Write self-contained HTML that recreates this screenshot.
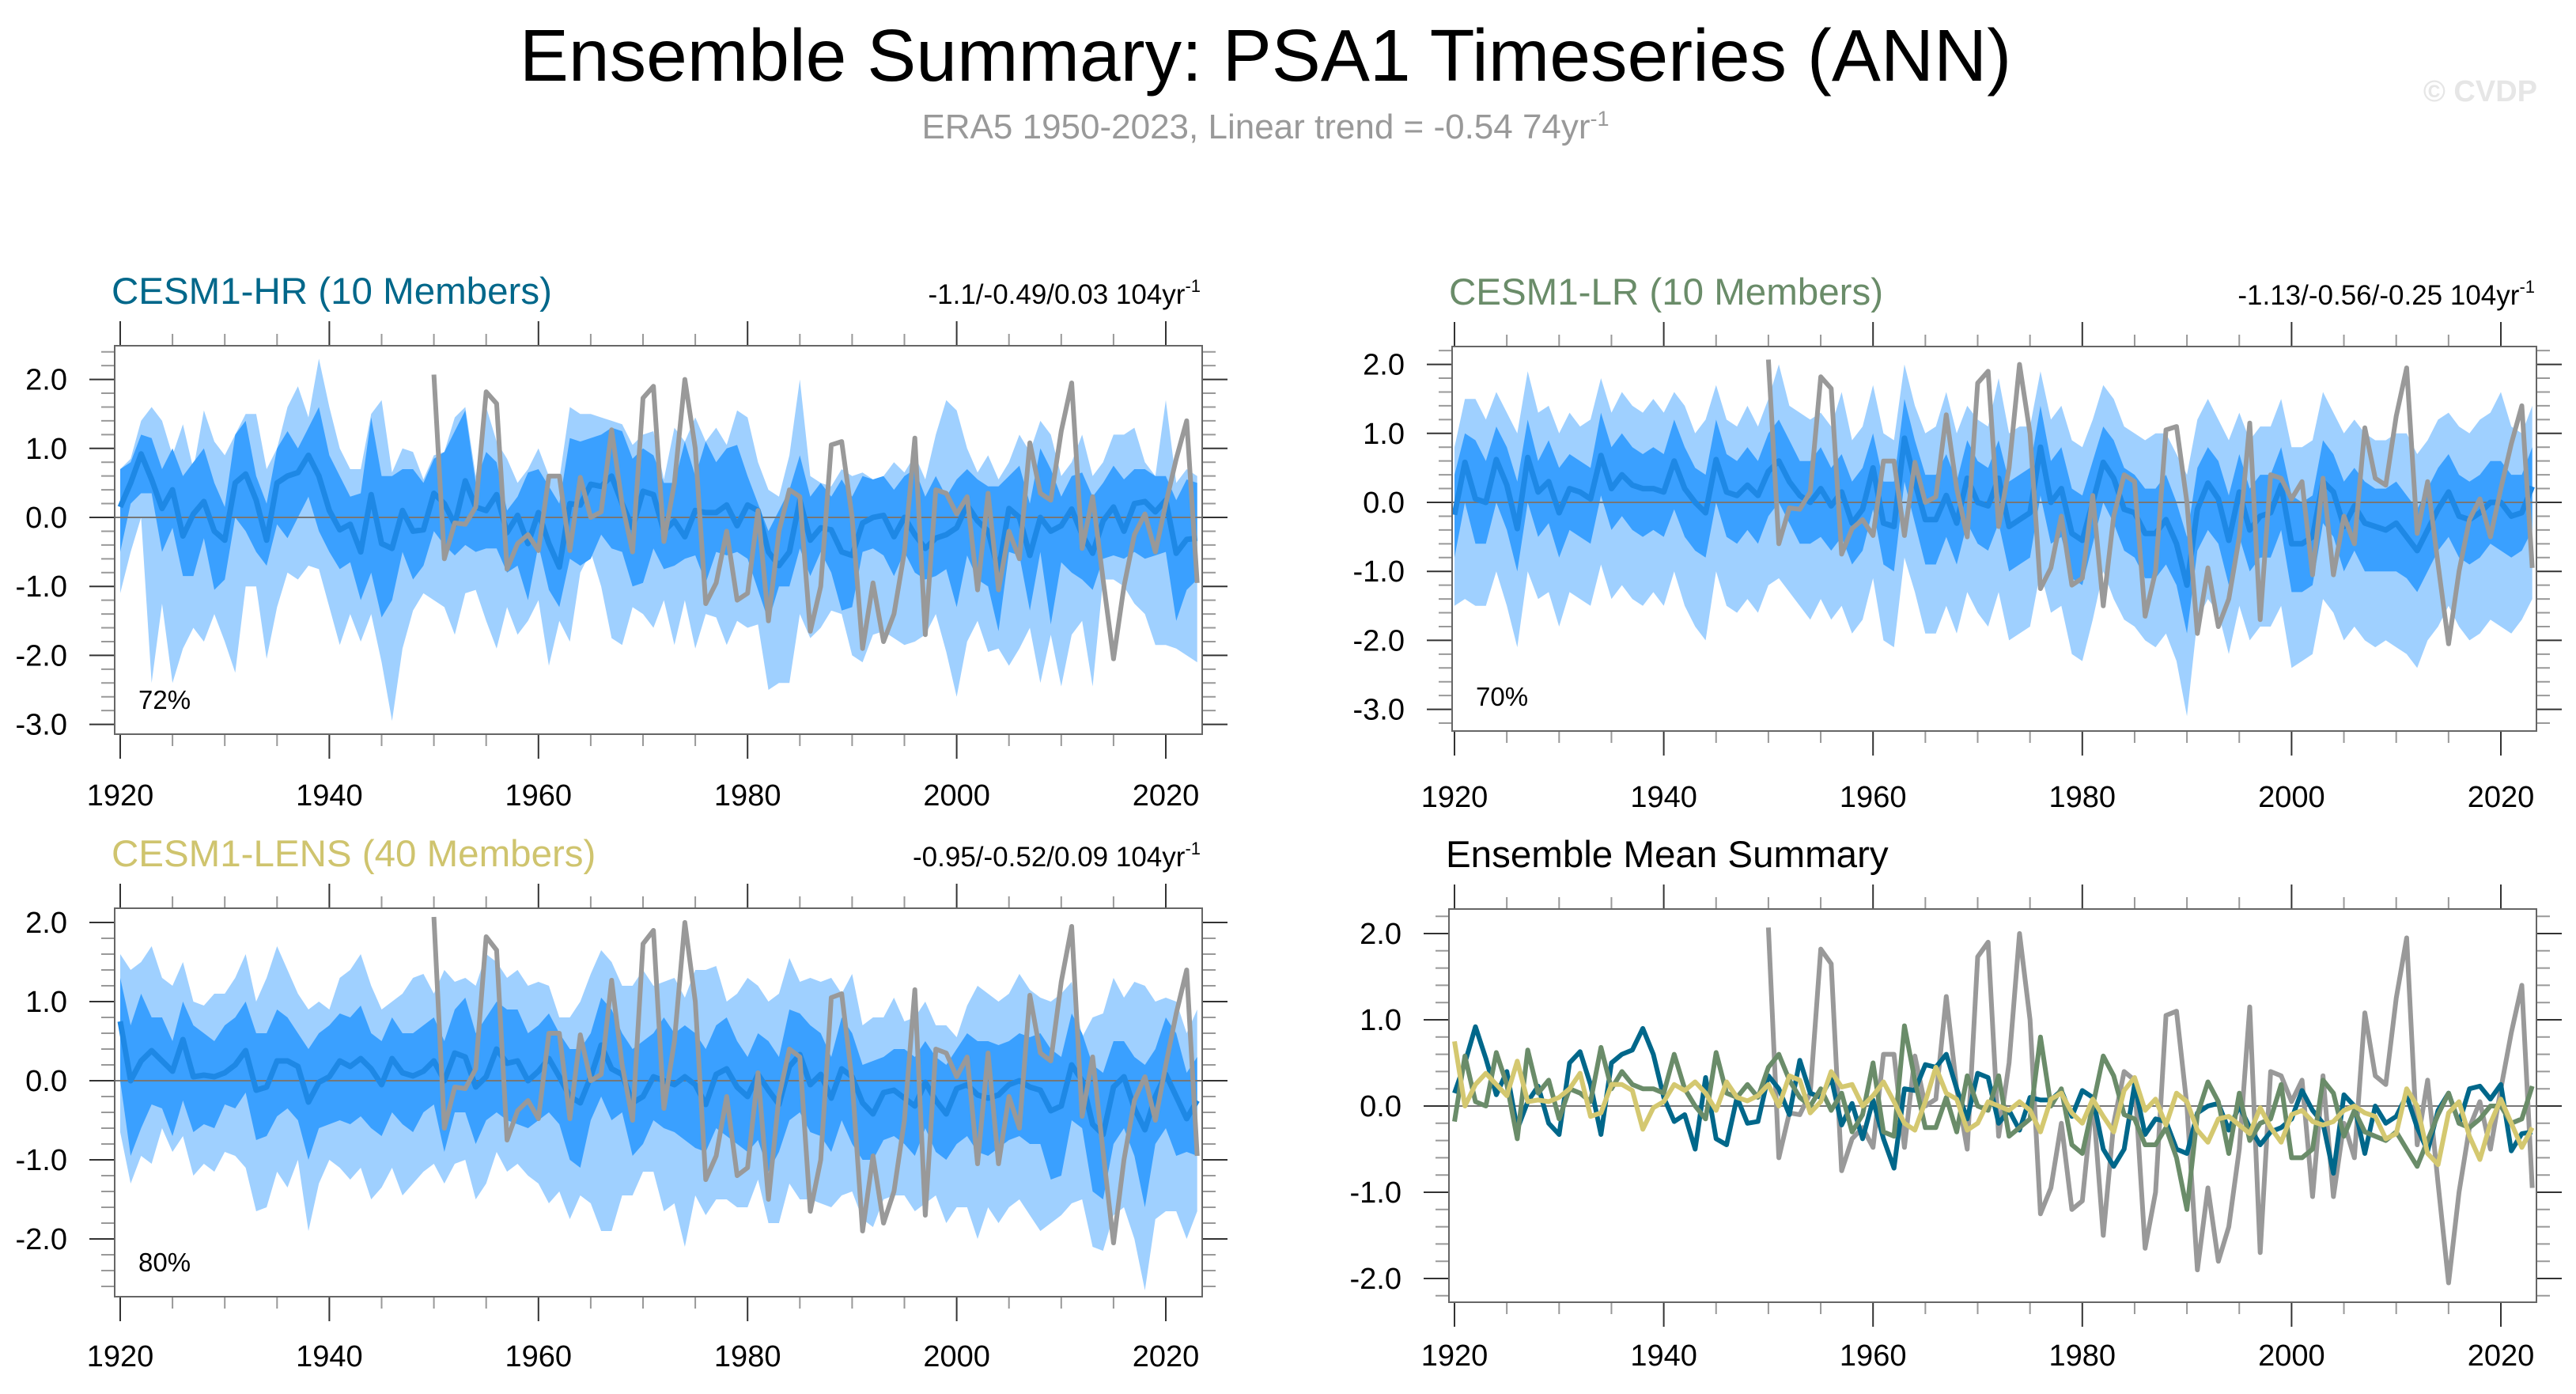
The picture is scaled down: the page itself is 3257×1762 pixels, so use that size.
<!DOCTYPE html>
<html><head><meta charset="utf-8"><style>
html,body{margin:0;padding:0;background:#fff;}
svg{display:block;font-family:"Liberation Sans",Arial,sans-serif;}
</style></head><body>
<svg id="chart" width="3257" height="1762" viewBox="0 0 3257 1762" xmlns="http://www.w3.org/2000/svg">
<text x="1600" y="102" font-size="93" text-anchor="middle" fill="#000">Ensemble Summary: PSA1 Timeseries (ANN)</text>
<text x="1600" y="175" font-size="44" text-anchor="middle" fill="#999">ERA5 1950-2023, Linear trend = -0.54 74yr<tspan dy="-16" font-size="27">-1</tspan></text>
<text x="3208" y="128" font-size="38" font-weight="bold" text-anchor="end" fill="#e6e6e6">© CVDP</text>
</svg>
<script>
const years = []; for (let y = 1920; y <= 2023; y++) years.push(y);
const eraYears = []; for (let y = 1950; y <= 2023; y++) eraYears.push(y);

const era5 = [2.07,-0.6,-0.08,-0.1,0.15,1.82,1.65,-0.75,-0.38,-0.25,
-0.48,0.6,0.6,-0.48,0.58,0.0,0.08,1.27,0.2,-0.5,
1.73,1.9,-0.35,0.5,2.0,1.0,-1.25,-0.95,-0.2,-1.2,
-1.1,0.1,-1.5,-0.2,0.4,0.3,-1.65,-1.0,1.05,1.1,
0.0,-1.9,-0.95,-1.8,-1.4,-0.5,1.15,-1.7,0.4,0.35,
0.05,0.3,-1.05,0.35,-1.05,-0.2,-0.6,1.08,0.35,0.25,
1.25,1.95,-0.45,0.3,-0.9,-2.05,-1.0,-0.25,0.05,-0.5,
0.2,0.85,1.4,-0.95];

const hrMean = [0.15,0.5,0.92,0.55,0.13,0.4,-0.27,0.05,0.23,-0.2,
-0.33,0.5,0.63,0.25,-0.33,0.5,0.6,0.65,0.9,0.6,
0.1,-0.18,-0.1,-0.5,0.33,-0.38,-0.45,0.1,-0.2,-0.18,
0.35,0.2,-0.1,0.53,0.15,0.1,0.33,-0.22,0.03,-0.38,
0.07,-0.38,-0.72,0.2,0.18,0.48,0.45,0.6,0.2,-0.15,
0.38,0.33,-0.2,-0.05,-0.28,0.1,0.07,0.07,0.18,-0.12,
0.18,0.1,-0.5,-0.7,-0.5,0.25,-0.33,-0.15,-0.18,-0.5,
-0.55,-0.08,0.0,0.03,-0.28,0.0,-0.25,-0.45,-0.3,-0.25,
-0.15,0.18,-0.05,-0.2,-0.78,0.13,0.0,-0.55,0.0,-0.2,
-0.12,0.12,-0.25,-0.52,-0.05,0.15,-0.2,0.2,0.23,0.08,
0.25,-0.52,-0.32,-0.3];
const hrInnerHi = [0.7,0.8,1.2,1.15,0.7,1.0,0.6,0.8,1.0,0.5,
0.15,1.2,1.4,0.6,0.2,1.0,1.25,1.0,1.3,1.6,
0.9,0.6,0.3,0.35,1.45,0.6,0.6,0.7,0.7,0.5,
0.85,0.95,1.25,1.55,0.5,0.95,0.8,0.1,0.3,0.65,
0.7,0.45,0.2,1.15,1.1,1.15,1.2,1.3,1.25,0.85,
1.0,0.9,0.5,0.5,1.1,0.6,1.1,0.8,1.0,1.05,
0.6,0.2,-0.2,0.1,0.4,0.9,0.3,0.5,0.3,0.55,
0.3,0.6,0.55,0.6,0.4,0.6,0.7,0.3,0.6,0.3,
0.55,0.7,0.55,0.45,0.45,0.6,0.75,0.2,1.0,0.7,
0.3,0.6,0.65,0.3,0.5,0.75,0.55,0.7,0.7,0.6,
0.6,0.25,0.55,0.5];
const hrInnerLo = [-0.5,0.2,0.35,0.35,-0.5,-0.15,-0.85,-0.85,-0.3,-1.05,
-0.9,0.0,-0.2,-0.5,-0.7,-0.1,-0.3,0.0,0.3,-0.2,
-0.5,-0.75,-0.65,-1.2,-0.8,-1.45,-1.2,-0.5,-0.9,-0.7,
-0.2,-0.4,-0.55,-0.4,-0.5,-0.45,-0.45,-0.8,-0.7,-1.2,
-0.4,-1.05,-1.3,-0.6,-0.7,-0.6,-0.25,-0.45,-0.5,-1.0,
-0.95,-0.45,-0.75,-0.7,-0.6,-0.55,-0.95,-0.5,-0.55,-0.5,
-0.6,-1.05,-1.5,-1.0,-1.0,-0.45,-0.85,-0.5,-0.8,-1.35,
-1.3,-0.5,-0.45,-0.55,-0.85,-0.5,-0.8,-0.9,-0.85,-0.75,
-1.3,-0.55,-0.9,-1.0,-1.65,-0.5,-0.55,-1.35,-0.5,-1.55,
-0.65,-0.8,-0.9,-1.05,-0.6,-0.55,-0.6,-0.5,-0.6,-0.55,
-0.5,-1.5,-1.05,-0.9];
const hrOuterHi = [0.7,0.85,1.4,1.6,1.4,0.9,1.35,0.7,1.55,1.1,
0.9,1.2,1.5,1.5,0.7,1.0,1.6,1.9,1.45,2.3,
1.6,1.0,0.7,0.7,1.5,1.7,0.65,1.0,0.95,0.55,
0.9,0.95,1.45,1.6,0.6,1.6,1.1,0.85,0.5,0.7,
1.0,0.6,0.55,1.6,1.5,1.5,1.45,1.4,1.35,1.05,
1.2,1.25,0.55,1.3,1.1,1.45,1.1,1.3,1.05,1.55,
1.45,0.8,0.4,0.3,0.9,2.0,0.6,0.5,0.45,0.7,
0.6,0.65,0.55,0.6,0.8,0.65,0.9,0.55,1.2,1.7,
1.55,1.0,0.65,0.9,0.55,0.8,1.2,0.95,1.4,1.2,
0.6,0.8,1.2,0.6,0.8,1.2,1.2,1.3,0.8,0.6,
1.7,0.5,0.7,0.6];
const hrOuterLo = [-1.1,-0.5,0.0,-2.4,-1.25,-2.4,-1.9,-1.6,-1.8,-1.4,
-1.8,-2.25,-1.0,-1.0,-2.05,-1.3,-0.8,-0.9,-0.7,-0.75,
-1.3,-1.85,-1.4,-1.8,-1.4,-2.1,-2.95,-1.9,-1.35,-1.1,
-1.2,-1.3,-1.7,-1.1,-1.05,-1.5,-1.9,-1.3,-1.7,-1.5,
-1.2,-2.15,-1.5,-1.8,-0.8,-0.5,-1.0,-1.75,-1.85,-1.3,
-1.4,-1.6,-1.2,-1.85,-1.2,-1.9,-1.4,-1.45,-1.85,-1.5,
-1.6,-1.55,-2.5,-2.4,-2.4,-1.4,-1.75,-1.6,-1.35,-1.4,
-2.0,-2.1,-1.7,-1.65,-1.75,-1.85,-1.8,-1.7,-1.4,-1.95,
-2.6,-1.8,-1.5,-1.95,-1.9,-2.15,-1.9,-1.6,-2.4,-1.7,
-2.45,-1.7,-1.5,-2.45,-0.9,-0.9,-1.0,-1.25,-1.4,-1.85,
-1.85,-1.9,-2.0,-2.1];

const lrMean = [-0.18,0.58,0.05,0.0,0.62,0.25,-0.38,0.65,0.15,0.3,
-0.15,0.2,0.15,0.05,0.68,0.2,0.4,0.25,0.2,0.2,
0.15,0.6,0.2,0.0,-0.15,0.62,0.15,0.1,0.25,0.1,
0.45,0.6,0.3,0.1,0.0,0.2,-0.05,0.15,-0.3,-0.1,
0.5,-0.3,-0.35,0.93,0.3,-0.25,-0.25,0.1,-0.3,0.35,
0.0,-0.05,0.35,-0.35,-0.25,-0.15,0.8,0.0,0.2,-0.45,
-0.55,0.0,0.58,0.35,-0.1,-0.15,-0.45,-0.45,-0.25,-0.6,
-1.2,-0.1,0.28,0.05,-0.55,0.15,-0.4,-0.2,-0.15,0.25,
-0.6,-0.6,-0.5,0.3,0.15,-0.35,-0.05,-0.3,-0.35,-0.4,
-0.3,-0.5,-0.7,-0.4,-0.1,0.15,-0.2,-0.25,-0.15,0.0,
0.0,-0.2,-0.15,0.23];
const lrInnerHi = [0.4,1.0,0.9,0.6,1.1,0.8,0.3,1.2,0.6,0.9,
0.5,0.7,0.6,0.5,1.3,0.8,1.0,0.8,0.7,0.8,
0.7,1.2,0.8,0.5,0.4,1.2,0.7,0.6,0.8,0.6,
1.0,1.2,0.9,0.6,0.6,0.8,0.5,0.7,0.3,0.5,
1.0,0.3,0.3,1.5,0.9,0.4,0.4,0.7,0.3,0.9,
0.6,0.5,0.9,0.3,0.4,0.5,1.4,0.6,0.8,0.2,
0.1,0.6,1.1,0.9,0.5,0.4,0.2,0.2,0.4,0.0,
-0.5,0.5,0.8,0.6,0.1,0.7,0.2,0.4,0.4,0.8,
0.1,0.0,0.1,0.9,0.7,0.3,0.5,0.3,0.2,0.2,
0.3,0.1,-0.1,0.2,0.5,0.7,0.4,0.3,0.4,0.6,
0.6,0.4,0.4,0.8];
const lrInnerLo = [-0.8,0.0,-0.6,-0.6,0.0,-0.4,-1.0,0.0,-0.5,-0.3,
-0.8,-0.4,-0.5,-0.6,0.1,-0.4,-0.2,-0.4,-0.5,-0.4,
-0.5,-0.1,-0.5,-0.7,-0.8,0.0,-0.5,-0.6,-0.4,-0.6,
-0.2,0.0,-0.3,-0.6,-0.6,-0.5,-0.7,-0.5,-0.9,-0.7,
-0.1,-0.9,-1.0,0.3,-0.3,-0.9,-0.9,-0.5,-0.9,-0.3,
-0.6,-0.7,-0.3,-1.0,-0.9,-0.8,0.1,-0.6,-0.5,-1.1,
-1.2,-0.6,0.0,-0.3,-0.7,-0.8,-1.1,-1.1,-0.9,-1.2,
-1.9,-0.7,-0.4,-0.6,-1.2,-0.5,-1.0,-0.8,-0.8,-0.4,
-1.3,-1.3,-1.2,-0.3,-0.5,-1.0,-0.7,-1.0,-1.0,-1.0,
-1.0,-1.1,-1.3,-1.0,-0.7,-0.5,-0.8,-0.9,-0.8,-0.6,
-0.7,-0.8,-0.7,-0.4];
const lrOuterHi = [0.8,1.5,1.5,1.2,1.6,1.3,1.0,1.9,1.3,1.4,
1.0,1.3,1.1,1.2,1.8,1.3,1.6,1.4,1.3,1.5,
1.3,1.6,1.4,1.0,1.2,1.7,1.2,1.1,1.4,1.1,
1.5,2.0,1.4,1.3,1.2,1.3,1.1,1.6,0.9,1.1,
1.7,1.0,0.9,2.0,1.4,1.0,1.1,1.6,1.0,1.4,
1.2,1.1,1.8,1.0,1.1,1.1,1.9,1.2,1.4,0.9,
0.8,1.2,1.7,1.5,1.1,1.0,0.9,1.0,1.0,0.7,
0.4,1.2,1.5,1.2,0.9,1.3,0.9,1.1,1.1,1.5,
0.8,0.8,0.9,1.6,1.3,1.0,1.2,1.0,0.9,0.9,
1.0,1.0,0.7,0.9,1.2,1.3,1.1,1.0,1.2,1.3,
1.6,1.1,1.0,1.4];
const lrOuterLo = [-1.5,-1.4,-1.5,-1.5,-1.0,-1.5,-2.1,-1.0,-1.4,-1.3,
-1.8,-1.3,-1.4,-1.5,-0.9,-1.4,-1.2,-1.4,-1.5,-1.3,
-1.5,-1.0,-1.5,-1.8,-2.0,-1.0,-1.5,-1.6,-1.4,-1.6,
-1.2,-1.1,-1.3,-1.5,-1.7,-1.4,-1.7,-1.5,-1.9,-1.7,
-1.1,-2.0,-2.1,-0.8,-1.3,-1.9,-1.9,-1.5,-1.9,-1.3,
-1.6,-1.8,-1.3,-2.0,-1.9,-1.8,-1.0,-1.6,-1.5,-2.2,
-2.3,-1.7,-1.0,-1.4,-1.7,-1.8,-2.0,-2.1,-1.9,-2.3,
-3.1,-1.7,-1.4,-1.6,-2.2,-1.5,-2.0,-1.8,-1.8,-1.5,
-2.4,-2.3,-2.2,-1.4,-1.6,-2.0,-1.8,-2.0,-2.1,-2.0,
-2.1,-2.2,-2.4,-2.0,-1.8,-1.5,-1.8,-2.0,-1.9,-1.7,
-1.8,-1.9,-1.7,-1.4];

const lensMean = [0.75,0.0,0.25,0.38,0.25,0.12,0.52,0.05,0.07,0.05,
0.1,0.2,0.38,-0.12,-0.08,0.25,0.25,0.18,-0.27,-0.02,
0.05,0.25,0.18,0.28,0.15,-0.05,0.28,0.1,0.06,0.12,
0.25,0.0,0.35,0.3,-0.08,0.05,0.4,0.22,0.25,0.0,
0.12,0.28,0.05,-0.2,-0.28,0.05,0.45,0.15,0.08,-0.28,
-0.2,0.05,0.0,-0.05,0.05,-0.05,-0.3,0.08,0.15,-0.08,
-0.2,0.08,-0.12,-0.3,0.18,0.33,-0.05,0.08,-0.22,0.15,
0.05,-0.28,-0.42,-0.15,-0.12,-0.22,-0.32,-0.02,-0.25,-0.42,
-0.1,-0.05,-0.18,-0.22,-0.18,-0.05,0.0,-0.08,-0.12,-0.38,
-0.32,0.2,0.0,-0.55,-0.68,-0.08,0.05,-0.35,-0.62,-0.2,
0.08,-0.2,-0.48,-0.25];
const lensInnerHi = [1.3,0.7,1.1,0.8,0.8,0.5,1.0,0.7,0.6,0.5,
0.7,0.8,1.0,0.6,0.6,0.9,0.8,0.6,0.4,0.6,
0.7,0.85,0.8,0.95,0.6,0.5,0.8,0.6,0.6,0.7,
0.8,0.5,0.9,1.05,0.6,0.8,1.0,0.9,0.9,0.6,
0.7,0.85,0.6,0.4,0.4,0.6,1.05,0.9,0.6,0.4,
0.5,0.6,0.8,0.6,0.7,0.6,0.4,0.7,0.8,0.5,
0.3,0.6,0.5,0.3,0.9,0.85,0.7,0.6,0.3,0.8,
0.6,0.2,0.25,0.3,0.4,0.4,0.3,0.5,0.3,0.2,
0.4,0.6,0.5,0.5,0.45,0.5,0.6,0.55,0.6,0.4,
0.3,0.85,0.6,0.2,0.1,0.5,0.5,0.3,0.2,0.4,
0.8,0.6,0.1,0.3];
const lensInnerLo = [0.0,-0.95,-0.6,-0.3,-0.35,-0.7,-0.25,-0.65,-0.55,-0.6,
-0.3,-0.35,-0.15,-0.75,-0.7,-0.45,-0.35,-0.5,-1.0,-0.6,
-0.55,-0.5,-0.55,-0.45,-0.6,-0.7,-0.4,-0.55,-0.65,-0.4,
-0.3,-0.9,-0.4,-0.4,-0.8,-0.5,-0.4,-0.5,-0.55,-0.6,
-0.5,-0.4,-0.55,-1.0,-1.1,-0.5,-0.2,-0.5,-0.4,-0.95,
-0.8,-0.5,-0.6,-0.65,-0.75,-0.85,-0.9,-0.6,-0.7,-0.8,
-0.9,-0.75,-1.15,-0.9,-0.5,-0.4,-0.65,-0.7,-0.9,-0.5,
-0.8,-1.0,-1.0,-0.75,-0.7,-0.8,-0.95,-0.6,-0.9,-1.0,
-0.8,-0.7,-0.9,-0.95,-0.85,-0.75,-0.7,-0.8,-0.8,-1.25,
-1.2,-0.5,-0.6,-1.4,-1.5,-0.8,-0.6,-0.95,-1.6,-0.8,
-0.6,-0.95,-0.9,-0.95];
const lensOuterHi = [1.6,1.4,1.5,1.7,1.3,1.2,1.5,1.0,0.95,1.1,
1.1,1.3,1.6,1.0,1.3,1.7,1.4,1.1,0.9,1.0,
0.9,1.3,1.4,1.6,1.2,0.9,1.0,1.1,1.3,1.35,
1.1,1.4,1.25,1.3,1.2,1.6,1.5,1.3,1.4,1.2,
1.25,1.2,0.8,0.8,1.0,1.35,1.65,1.5,1.2,1.2,
1.4,1.2,1.25,1.3,1.05,1.4,1.4,1.45,1.0,1.1,
1.3,1.2,1.0,1.1,1.55,1.25,1.3,1.25,1.3,1.1,
1.35,0.7,0.8,0.8,1.05,0.75,0.8,1.0,0.7,0.7,
0.55,0.95,1.2,1.1,1.0,1.1,1.35,1.15,1.05,1.0,
1.1,1.25,0.55,0.8,0.85,1.3,1.05,1.25,1.2,1.0,
1.05,1.0,0.6,0.9];
const lensOuterLo = [-0.65,-1.3,-0.95,-1.05,-0.6,-0.9,-0.7,-1.2,-1.05,-1.15,
-0.9,-0.95,-1.1,-1.65,-1.6,-1.15,-1.35,-1.0,-1.9,-1.3,
-1.0,-1.1,-1.25,-1.1,-1.5,-1.35,-1.1,-1.45,-1.3,-1.15,
-1.05,-1.3,-1.05,-1.0,-1.5,-1.3,-0.9,-1.15,-1.05,-1.2,
-1.3,-1.55,-1.4,-1.75,-1.45,-1.55,-1.9,-1.9,-1.45,-1.45,
-1.15,-1.15,-1.65,-1.55,-2.1,-1.45,-1.7,-1.5,-1.5,-1.6,
-1.6,-1.25,-1.8,-1.8,-1.3,-1.5,-1.5,-1.55,-1.6,-1.45,
-1.4,-1.75,-1.85,-1.5,-1.45,-1.45,-1.65,-1.55,-1.45,-1.8,
-1.6,-1.6,-2.0,-1.6,-1.8,-1.6,-1.5,-1.7,-1.9,-1.8,
-1.7,-1.55,-1.5,-2.1,-2.15,-1.7,-1.6,-2.0,-2.65,-1.75,
-1.65,-1.65,-2.0,-1.65];

const yTickValuesA = [2.0,1.0,0.0,-1.0,-2.0,-3.0];
const yTickLabelsA = ["2.0","1.0","0.0","-1.0","-2.0","-3.0"];
const yTickValuesB = [2.0,1.0,0.0,-1.0,-2.0];
const yTickLabelsB = ["2.0","1.0","0.0","-1.0","-2.0"];
const xTickYears = [1920,1940,1960,1980,2000,2020];
const xTickLabels = ["1920","1940","1960","1980","2000","2020"];

const NS = "http://www.w3.org/2000/svg";
const svg = document.getElementById('chart');
function mk(tag, attrs, parent) {
  const e = document.createElementNS(NS, tag);
  for (const k in attrs) e.setAttribute(k, attrs[k]);
  (parent || svg).appendChild(e);
  return e;
}

function makePanel(cfg) {
  const g = mk('g', {});
  
  
  const xs = yr => cfg.x0 + (yr - 1920) * cfg.xs;
  const ys = v => cfg.y0 - v * cfg.ys;
  const vmin = (cfg.y0 - cfg.bottom) / cfg.ys, vmax = (cfg.y0 - cfg.top) / cfg.ys;
  for (let k = Math.ceil(vmin * 5); k <= Math.floor(vmax * 5); k++) {
    const v = k / 5, maj = (k % 5 === 0), yy = ys(v);
    const len = maj ? 32 : 17;
    const t1 = mk('line', {x1: cfg.left - len, x2: cfg.left, y1: yy, y2: yy, stroke: maj ? '#333' : '#999', 'stroke-width': 2}, g);
    
    
    const t2 = mk('line', {x1: cfg.right, x2: cfg.right + len, y1: yy, y2: yy, stroke: maj ? '#333' : '#999', 'stroke-width': 2}, g);
    
    
  }
  for (let y = 1920; y <= 2023; y += 5) {
    const maj = (y % 20 === 0), xx = xs(y), len = maj ? 31 : 15;
    const t1 = mk('line', {x1: xx, x2: xx, y1: cfg.top - len, y2: cfg.top, stroke: maj ? '#333' : '#999', 'stroke-width': 2}, g);
    
    
    const t2 = mk('line', {x1: xx, x2: xx, y1: cfg.bottom, y2: cfg.bottom + len, stroke: maj ? '#333' : '#999', 'stroke-width': 2}, g);
    
    
  }
  cfg.yTicks.forEach((v, i) => {
    const t = mk('text', {x: cfg.left - 60, y: ys(v) + 13, 'font-size': 38, 'text-anchor': 'end', fill: '#000'}, g);
    t.textContent = cfg.yLabels[i];
    
    
  });
  xTickYears.forEach((yr, i) => {
    const t = mk('text', {x: xs(yr), y: cfg.bottom + cfg.xlOff, 'font-size': 38, 'text-anchor': 'middle', fill: '#000'}, g);
    t.textContent = xTickLabels[i];
    
    
  });
  const clipId = 'clip-' + cfg.name;
  const cp = mk('clipPath', {id: clipId}, g);
  mk('rect', {x: cfg.left, y: cfg.top, width: cfg.right - cfg.left, height: cfg.bottom - cfg.top}, cp);
  const plot = mk('g', {'clip-path': 'url(#' + clipId + ')'}, g);
  
  
  const band = (hi, lo, col, nm) => {
    let d = '';
    years.forEach((y, i) => { d += (i ? 'L' : 'M') + xs(y).toFixed(1) + ',' + ys(hi[i]).toFixed(1); });
    for (let i = years.length - 1; i >= 0; i--) d += 'L' + xs(years[i]).toFixed(1) + ',' + ys(lo[i]).toFixed(1);
    const p = mk('path', {d: d + 'Z', fill: col}, plot);
    
    
  };
  const line = (xArr, vals, col, w, nm) => {
    let d = '';
    vals.forEach((v, i) => { d += (i ? 'L' : 'M') + xs(xArr[i]).toFixed(1) + ',' + ys(v).toFixed(1); });
    const p = mk('path', {d: d, fill: 'none', stroke: col, 'stroke-width': w, 'stroke-linejoin': 'round'}, plot);
    
    
  };
  if (cfg.bands) {
    band(cfg.bands[0], cfg.bands[1], '#9fd0ff', 'outer-spread-band');
    band(cfg.bands[2], cfg.bands[3], '#3aa0ff', 'inner-spread-band');
  }
  const z = mk('line', {x1: cfg.left, x2: cfg.right, y1: ys(0), y2: ys(0), stroke: '#777', 'stroke-width': 2}, plot);
  
  
  if (cfg.bands) {
    line(years, cfg.mean, '#1e88e5', 7, 'ensemble-mean-line');
    line(eraYears, era5, '#999', 6, 'era5-line');
  } else {
    line(eraYears, era5, '#999', 6, 'era5-line');
    line(years, hrMean, '#00678a', 6, 'cesm1-hr-mean-line');
    line(years, lrMean, '#6a8c69', 6, 'cesm1-lr-mean-line');
    line(years, lensMean, '#d4c870', 6, 'cesm1-lens-mean-line');
  }
  const fr = mk('rect', {x: cfg.left, y: cfg.top, width: cfg.right - cfg.left, height: cfg.bottom - cfg.top, fill: 'none', stroke: '#666', 'stroke-width': 2}, g);
  
  
  const ti = mk('text', {x: cfg.left - 4, y: cfg.top - 53, 'font-size': 47.5, fill: cfg.titleColor}, g);
  ti.textContent = cfg.title;
  
  
  if (cfg.trend) {
    const tr = mk('text', {x: cfg.right - 2, y: cfg.top - 53, 'font-size': 35, 'text-anchor': 'end', fill: '#000'}, g);
    tr.textContent = cfg.trend + ' 104yr';
    const sup = mk('tspan', {dy: -15, 'font-size': 22}, tr);
    sup.textContent = '-1';
    
    
  }
  if (cfg.pct) {
    const pc = mk('text', {x: cfg.left + 30, y: cfg.bottom - 32, 'font-size': 33, fill: '#000'}, g);
    pc.textContent = cfg.pct;
    
    
  }
}

makePanel({name: 'cesm1-hr-panel', left: 145, right: 1520, top: 437, bottom: 928, x0: 152, xs: 13.22, y0: 654, ys: 87.2, xlOff: 90,
  yTicks: yTickValuesA, yLabels: yTickLabelsA, title: 'CESM1-HR (10 Members)', titleColor: '#00678a',
  trend: '-1.1/-0.49/0.03', pct: '72%', mean: hrMean, bands: [hrOuterHi, hrOuterLo, hrInnerHi, hrInnerLo]});
makePanel({name: 'cesm1-lr-panel', left: 1836, right: 3207, top: 438, bottom: 924, x0: 1839, xs: 13.23, y0: 635, ys: 87.2, xlOff: 96,
  yTicks: yTickValuesA, yLabels: yTickLabelsA, title: 'CESM1-LR (10 Members)', titleColor: '#6a8c69',
  trend: '-1.13/-0.56/-0.25', pct: '70%', mean: lrMean, bands: [lrOuterHi, lrOuterLo, lrInnerHi, lrInnerLo]});
makePanel({name: 'cesm1-lens-panel', left: 145, right: 1520, top: 1148, bottom: 1639, x0: 152, xs: 13.22, y0: 1366, ys: 100, xlOff: 88,
  yTicks: yTickValuesB, yLabels: yTickLabelsB, title: 'CESM1-LENS (40 Members)', titleColor: '#cfc46e',
  trend: '-0.95/-0.52/0.09', pct: '80%', mean: lensMean, bands: [lensOuterHi, lensOuterLo, lensInnerHi, lensInnerLo]});
makePanel({name: 'ensemble-mean-summary-panel', left: 1832, right: 3207, top: 1149, bottom: 1646, x0: 1839, xs: 13.23, y0: 1398, ys: 109, xlOff: 80,
  yTicks: yTickValuesB, yLabels: yTickLabelsB, title: 'Ensemble Mean Summary', titleColor: '#000'});
</script>
</body></html>
